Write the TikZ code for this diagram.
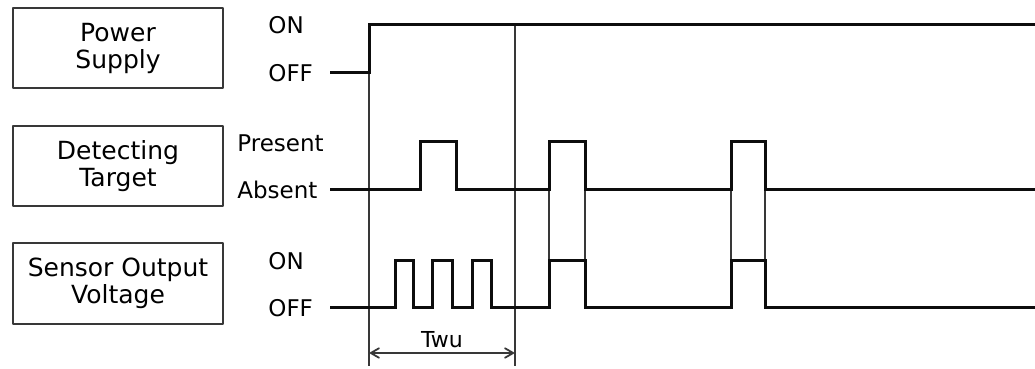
\documentclass[tikz,border=0pt]{standalone}
\usepackage{fontspec}
\setmainfont{DejaVu Sans}
\usetikzlibrary{arrows}
\definecolor{qqqqqq}{rgb}{0.05,0.05,0.05}
\definecolor{gguide}{rgb}{0.22,0.22,0.22}
\tikzset{
  namebox/.style={draw=gguide,line width=1pt,minimum width=105pt,minimum height=40pt,
    align=center,inner sep=0pt,font=\fontsize{12.5}{13.5}\selectfont},
  levellabel/.style={anchor=west,inner sep=0pt,font=\fontsize{11.5}{13}\selectfont},
  signal/.style={line width=1.5pt,color=qqqqqq,line cap=butt,line join=miter},
  guide/.style={line width=0.7pt,color=gguide,line cap=butt}
}
\begin{document}
\begin{tikzpicture}[line cap=round,line join=round,x=0.5pt,y=-0.5pt]
        \useasboundingbox (0,0) rectangle (1035,369);
        % signal names
        \node[namebox] (power) at (118,48) {Power\\Supply};
        \node[namebox] (target) at (118,166.5) {Detecting\\Target};
        \node[namebox] (output) at (118,283.5) {Sensor Output\\Voltage};
        % levels
        \node[levellabel] (pon) at (268,25) {ON};
        \node[levellabel] (poff) at (268,73) {OFF};
        \node[levellabel] (tpres) at (237,143) {Present};
        \node[levellabel] (tabs) at (237,190) {Absent};
        \node[levellabel] (oon) at (268,261) {ON};
        \node[levellabel] (ooff) at (268,308) {OFF};
        % guide lines
        \draw [guide] (369,73) -- (369,366);
        \draw [guide] (515,25) -- (515,366);
        \foreach \xe in {549,585,731,765}
            \draw [guide] (\xe,190) -- (\xe,261);
        % waveforms
        \draw [signal] (330,73) -- (369,73) -- (369,25) -- (1036,25);
        \draw [signal] (330,190) -- (420,190) -- (420,142) -- (456,142) -- (456,190)
            -- (549,190) -- (549,142) -- (585,142) -- (585,190)
            -- (731,190) -- (731,142) -- (765,142) -- (765,190) -- (1036,190);
        \draw [signal] (330,308) -- (395,308) -- (395,261) -- (413,261) -- (413,308)
            -- (432,308) -- (432,261) -- (452,261) -- (452,308)
            -- (472,308) -- (472,261) -- (491,261) -- (491,308)
            -- (549,308) -- (549,261) -- (585,261) -- (585,308)
            -- (731,308) -- (731,261) -- (765,261) -- (765,308) -- (1036,308);
        % warm-up time
        \coordinate (twuL) at (369,353);
        \coordinate (twuR) at (515,353);
        \draw [guide,<->,>=angle 60,line width=0.9pt] (twuL) -- (twuR);
        \node[font=\fontsize{11}{12}\selectfont,inner sep=0pt] (twu) at (442,340) {Twu};
\end{tikzpicture}
\end{document}
